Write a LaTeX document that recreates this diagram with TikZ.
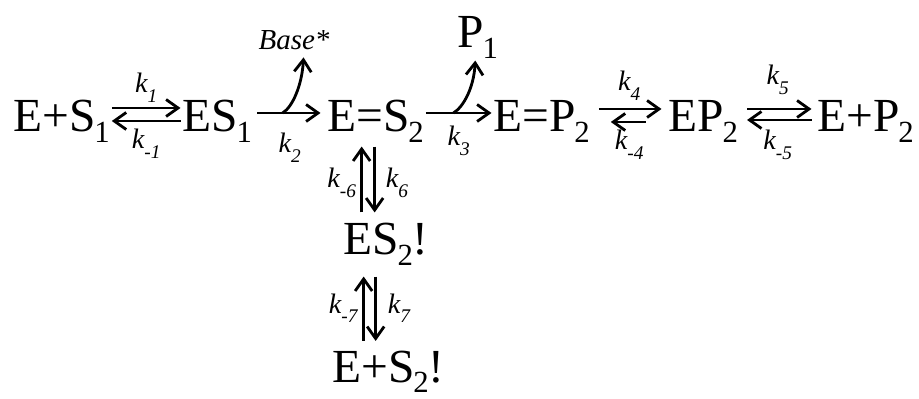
\documentclass[tikz,border=0pt]{standalone}
\usepackage{fontspec}
\setmainfont{Liberation Serif}
\usetikzlibrary{arrows.meta}
\newcommand{\chsub}[1]{\kern-0.03em\raisebox{-0.22em}{\fontsize{17.5}{18}\selectfont #1}}
\newcommand{\ksub}[1]{\raisebox{-0.35em}{\fontsize{11}{11}\selectfont #1}}
\tikzset{
    chem/.style={font=\fontsize{27}{30}\selectfont, inner sep=1pt, anchor=base west},
    klbl/.style={font=\fontsize{16}{18}\selectfont\itshape, inner sep=1pt},
    rxnarr/.style={-{Straight Barb[length=2.4mm, width=3.4mm]}, line width=1.6pt},
}

\begin{document}
\begin{tikzpicture}

    \useasboundingbox (0,0) rectangle (18.38,7.98);

    % main row
    \node[chem] (es1) at (0.23, 5.34) {E+S\chsub{1}};
    \node[chem] (es1b) at (3.61, 5.34) {ES\chsub{1}};
    \node[chem] (es2) at (6.51, 5.34) {E=S\chsub{2}};
    \node[chem] (ep2) at (9.83, 5.34) {E=P\chsub{2}};
    \node[chem] (ep2b) at (13.33, 5.34) {EP\chsub{2}};
    \node[chem] (ep2c) at (16.31, 5.34) {E+P\chsub{2}};

    % side products
    \node[chem] (p1) at (9.11, 7.02) {P\chsub{1}};
    \node[klbl, anchor=base west, font=\fontsize{16.5}{18}\selectfont\itshape] (lbase) at (5.13, 6.98) {Base*};

    % column below E=S2
    \node[chem] (es2b) at (6.83, 2.88) {ES\chsub{2}!};
    \node[chem] (es2c) at (6.61, 0.33) {E+S\chsub{2}!};

    \draw[rxnarr] ([yshift=0.48cm]es1.base east) -- node[klbl, above=0.05cm] {k\ksub{1}} ([yshift=0.48cm]es1b.base west);
    \draw[rxnarr] ([yshift=0.22cm]es1b.base west) -- node[klbl, below=0.1cm] {k\ksub{-1}} ([yshift=0.22cm]es1.base east);

    \draw[rxnarr, shorten <=0.06cm, shorten >=0.1cm] ([yshift=0.38cm]es1b.base east) -- coordinate[pos=0.4] (brk2)
        node[klbl, below=0.34cm] {k\ksub{2}} ([yshift=0.38cm]es2.base west);
    \draw[rxnarr] (brk2) .. controls +(0.2,0.12) and +(-0.03,-0.55) .. ([xshift=0.19cm, yshift=-0.1cm]lbase.south);

    \draw[rxnarr] ([yshift=0.38cm]es2.base east) -- coordinate[pos=0.42] (brk3)
        node[klbl, below=0.2cm] {k\ksub{3}} ([yshift=0.38cm]ep2.base west);
    \draw[rxnarr] (brk3) .. controls +(0.2,0.12) and +(-0.03,-0.55) .. ([xshift=-0.05cm]p1.south);

    \draw[rxnarr, shorten <=0.14cm, shorten >=0.1cm] ([yshift=0.46cm]ep2.base east) -- node[klbl, above=0.1cm] {k\ksub{4}} ([yshift=0.46cm]ep2b.base west);
    \draw[rxnarr, shorten <=0.42cm, shorten >=0.38cm] ([yshift=0.2cm]ep2b.base west) -- node[klbl, below=0.1cm] {k\ksub{-4}} ([yshift=0.2cm]ep2.base east);

    \draw[rxnarr, shorten <=0.14cm, shorten >=0.08cm] ([yshift=0.46cm]ep2b.base east) -- node[klbl, above=0.22cm] {k\ksub{5}} ([yshift=0.46cm]ep2c.base west);
    \draw[rxnarr, shorten <=0.08cm, shorten >=0.14cm] ([yshift=0.24cm]ep2c.base west) -- node[klbl, below=0.14cm] {k\ksub{-5}} ([yshift=0.24cm]ep2b.base east);

    \draw[rxnarr, shorten <=0.18cm, shorten >=0.04cm] ([xshift=-0.28cm]es2.south |- es2b.north) -- node[klbl, left=0.05cm] {k\ksub{-6}} ([xshift=-0.28cm]es2.south);
    \draw[rxnarr, shorten <=0.04cm, shorten >=0.18cm] ([xshift=-0.02cm]es2.south) -- node[klbl, right=0.16cm] {k\ksub{6}} ([xshift=-0.02cm]es2.south |- es2b.north);

    \draw[rxnarr, shorten <=0.16cm, shorten >=0.18cm] ([xshift=-0.24cm]es2.south |- es2c.north) -- node[klbl, left=0.06cm] {k\ksub{-7}} ([xshift=-0.24cm]es2.south |- es2b.south);
    \draw[rxnarr, shorten <=0.18cm, shorten >=0.16cm] (es2.south |- es2b.south) -- node[klbl, right=0.18cm] {k\ksub{7}} (es2.south |- es2c.north);

\end{tikzpicture}
\end{document}
